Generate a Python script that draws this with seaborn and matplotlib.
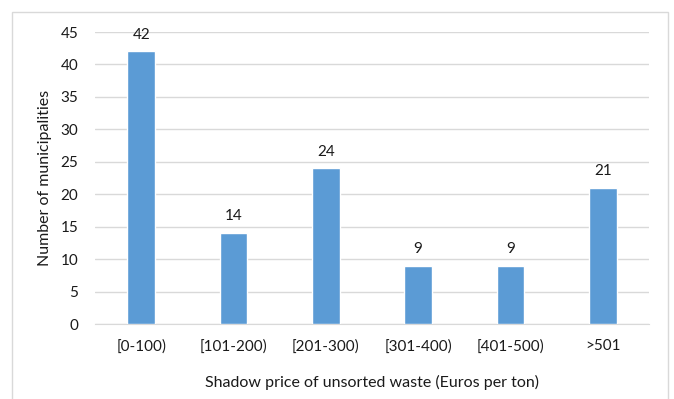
import matplotlib
matplotlib.use("Agg")
import matplotlib.pyplot as plt
from matplotlib.patches import Rectangle
import seaborn as sns
import pandas as pd

categories = ["[0-100)", "[101-200)", "[201-300)", "[301-400)", "[401-500)", ">501"]
counts = [42, 14, 24, 9, 9, 21]
y_ticks = [0, 5, 10, 15, 20, 25, 30, 35, 40, 45]

df = pd.DataFrame({"price": categories, "n": counts})

sns.set_style("white")
plt.rcParams["font.family"] = ["Lato", "DejaVu Sans"]

fig = plt.figure(figsize=(6.74, 3.99), dpi=100)
ax = fig.add_axes([95 / 674, 1 - 324 / 399, 554 / 674, 292 / 399])

sns.barplot(data=df, x="price", y="n", color="#5b9bd5", width=0.3,
            saturation=1, ax=ax, zorder=3)

for i, v in enumerate(counts):
    ax.text(i, v + 1.5, str(v), ha="center", va="bottom", fontsize=11, color="#1a1a1a")

ax.set_ylim(0, 45)
ax.set_xlim(-0.5, len(categories) - 0.5)
ax.set_yticks(y_ticks)
ax.yaxis.grid(True, color="#d9d9d9", linewidth=1, zorder=0)
ax.tick_params(axis="both", length=0, labelsize=11, labelcolor="#1a1a1a")
ax.tick_params(axis="x", pad=11)
ax.tick_params(axis="y", pad=12)
for s in ["top", "right", "left"]:
    ax.spines[s].set_visible(False)
ax.spines["bottom"].set_color("#d9d9d9")

ax.set_xlabel("Shadow price of unsorted waste (Euros per ton)", fontsize=11.5, labelpad=15, color="#1a1a1a")
ax.set_ylabel("Number of municipalities", fontsize=11.5, labelpad=6, color="#1a1a1a")

fig.add_artist(Rectangle((12 / 674, -0.05), 656 / 674, 1.05 - 12 / 399,
                         transform=fig.transFigure, fill=False,
                         edgecolor="#d9d9d9", linewidth=1))

fig.savefig("out.png", dpi=100)
